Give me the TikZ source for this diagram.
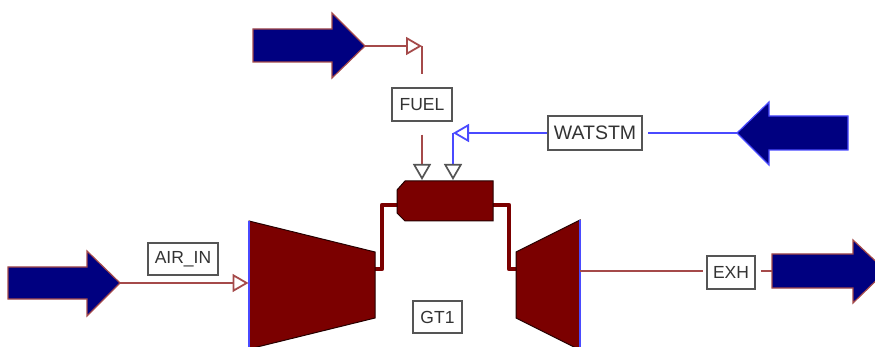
\documentclass[tikz,border=0pt]{standalone}
\usepackage{fontspec}
\setmainfont{Liberation Sans}
\usetikzlibrary{arrows.meta}
\definecolor{steambrown}{HTML}{A54A4A}
\definecolor{steamblue}{HTML}{4A4AFF}
\definecolor{blockred}{HTML}{7B0000}
\definecolor{portnavy}{HTML}{000080}
\definecolor{boxgrey}{HTML}{555555}
\definecolor{txtgrey}{HTML}{333333}
\tikzset{
  lbl/.style={draw=boxgrey,line width=1.5pt,fill=white,text=txtgrey,inner sep=0pt,
    font=\fontsize{17.5}{20}\selectfont,anchor=center},
  feedarrow/.style={fill=portnavy,line width=1.2pt,line join=miter},
  brownline/.style={draw=steambrown,line width=1.8pt},
  blueline/.style={draw=steamblue,line width=1.8pt},
  machine/.style={fill=blockred,draw=black!70!blockred,line width=1pt,line join=miter},
  pipe/.style={draw=blockred,line width=4.5pt,line join=round},
  browntip/.style={-{Triangle[open,length=16pt,width=18pt,line width=1.8pt,color=steambrown]}},
  bluetip/.style={-{Triangle[open,length=16pt,width=18pt,line width=1.8pt,color=steamblue]}},
  greytip/.style={-{Triangle[open,length=16pt,width=18pt,line width=1.7pt,color=boxgrey]}},
}
\begin{document}
\begin{tikzpicture}[x=1pt,y=-1pt]
\clip (0,0) rectangle (875,347);
\fill[white] (0,0) rectangle (875,347);

% named points
\coordinate (airsrc) at (120,283);
\coordinate (airend) at (248.5,283);
\coordinate (fuelsrc) at (365,46);
\coordinate (fuelcorner) at (422,46);
\coordinate (fuelend) at (422,180);
\coordinate (watsrc) at (737,133);
\coordinate (watcorner) at (453,133);
\coordinate (watend) at (453,180);
\coordinate (exhsrc) at (580,271);
\coordinate (exhdst) at (772,271);

% pipes
\draw[pipe] (397,205) -- (382,205) -- (382,269) -- (375,269);
\draw[pipe] (493,205) -- (509,205) -- (509,269) -- (516,269);

% machines
\path[machine] (249,221) -- (375,252) -- (375,318) -- (249,349) -- cycle;
\draw[steamblue,line width=1.2pt] (249,221) -- (249,349);
\path[machine] (405,181) -- (493,181) -- (493,221) -- (405,221) -- (397,213) -- (397,190) -- cycle;
\path[machine] (516,252) -- (580,220) -- (580,350) -- (516,318) -- cycle;
\draw[steamblue,line width=1.2pt] (580,220) -- (580,350);

% labels
\node[lbl,minimum width=70pt,minimum height=32pt] (airin) at (183,259) {AIR\_IN};
\node[lbl,minimum width=60pt,minimum height=33pt] (fuel) at (422,104.5) {FUEL};
\node[lbl,minimum width=94pt,minimum height=34pt] (watstm) at (595,133) {\fontsize{19.5}{22}\selectfont WATSTM};
\node[lbl,minimum width=48pt,minimum height=33pt] (exh) at (731,272.5) {EXH};
\node[lbl,minimum width=49pt,minimum height=32pt] (gt) at (437.5,317) {GT1};

% connectors
\draw[brownline,browntip] (airsrc) -- (airend);
\draw[brownline,browntip] (fuelsrc) -- (fuelcorner);
\draw[brownline,shorten >=13pt] (fuelcorner) -- (fuel);
\draw[brownline,greytip,shorten <=13pt] (fuel) -- (fuelend);
\draw[blueline,shorten >=5pt] (watsrc) -- (watstm);
\draw[blueline,bluetip] (watstm) -- (watcorner);
\draw[blueline,greytip] (watcorner) -- (watend);
\draw[brownline,shorten >=3pt] (exhsrc) -- (exh.west |- exhsrc);
\draw[brownline,shorten <=5pt] (exh.east |- exhdst) -- (exhdst);

% boundary arrows
\path[feedarrow,draw=steambrown] (8,267) -- (87,267) -- (87,251) -- (120,283) -- (87,316) -- (87,299) -- (8,299) -- cycle;
\path[feedarrow,draw=steambrown] (253,29) -- (332,29) -- (332,13) -- (365,46) -- (332,78) -- (332,62) -- (253,62) -- cycle;
\path[feedarrow,draw=steamblue] (848,116) -- (769,116) -- (769,102) -- (737,133) -- (769,165) -- (769,150) -- (848,150) -- cycle;
\path[feedarrow,draw=steambrown] (772,254) -- (853,254) -- (853,240) -- (886,271) -- (853,303) -- (853,288) -- (772,288) -- cycle;
\end{tikzpicture}
\end{document}
